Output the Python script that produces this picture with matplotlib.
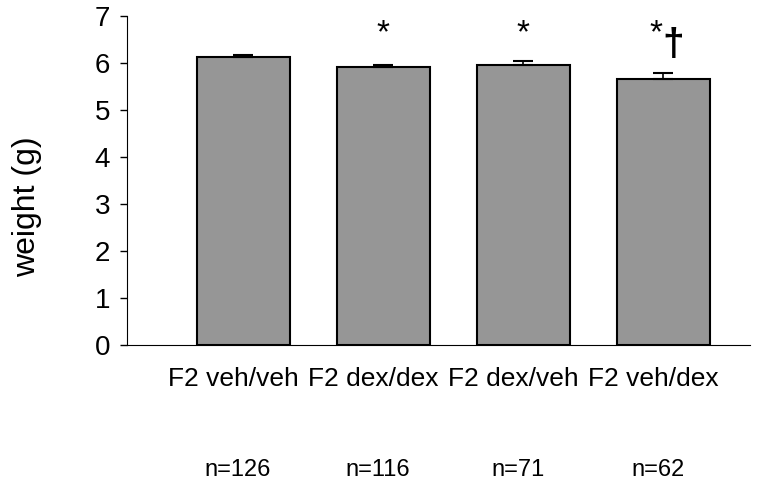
import matplotlib.pyplot as plt
from matplotlib.transforms import ScaledTranslation

plt.rcParams['font.family'] = ['Liberation Sans', 'DejaVu Sans']

groups = ["F2 veh/veh", "F2 dex/dex", "F2 dex/veh", "F2 veh/dex"]
weights = [6.13, 5.91, 5.96, 5.66]
errors = [0.04, 0.04, 0.08, 0.13]
stars = ["", "*", "*", "*"]
daggers = ["", "", "", "\u2020"]
counts = ["n=126", "n=116", "n=71", "n=62"]

fig = plt.figure(figsize=(7.67, 4.87), dpi=100)
ax = fig.add_axes([0.1656, 0.2916, 0.978 - 0.1656, 0.967 - 0.2916])

x = list(range(len(groups)))
ax.bar(x, weights, width=0.665, color="#969696", edgecolor="black", linewidth=1.5, zorder=2)
ax.errorbar(x, weights, yerr=[[0] * len(errors), errors], fmt="none", ecolor="black",
            elinewidth=1.2, capsize=7, capthick=1.5, zorder=3)

for xi, s, d in zip(x, stars, daggers):
    if s and d:
        ax.text(xi - 0.05, 6.62, s, ha="center", va="center", fontsize=24)
        ax.text(xi + 0.07, 6.76, d, ha="center", va="top", fontsize=28, fontweight="bold")
    elif s:
        ax.text(xi, 6.62, s, ha="center", va="center", fontsize=24)

ax.set_xlim(-0.83, 3.62)
ax.set_ylim(0, 7)
ax.set_yticks(range(8))
ax.tick_params(axis="y", labelsize=20, direction="out", length=5, width=1, pad=7)
ax.set_xticks(x)
ax.set_xticklabels(groups, fontsize=19)
ax.tick_params(axis="x", length=0, pad=16)
shift = ScaledTranslation(-10 / 100, 0, fig.dpi_scale_trans)
for lab in ax.get_xticklabels():
    lab.set_transform(lab.get_transform() + shift)
ax.spines["top"].set_visible(False)
ax.spines["right"].set_visible(False)
ax.set_ylabel("weight (g)", fontsize=23)
ax.yaxis.set_label_coords(-0.137, 0.42)

for xi, c in zip(x, counts):
    ax.text(xi - 0.04, -2.66, c, ha="center", va="center", fontsize=17)

fig.savefig("out.png", dpi=100)
